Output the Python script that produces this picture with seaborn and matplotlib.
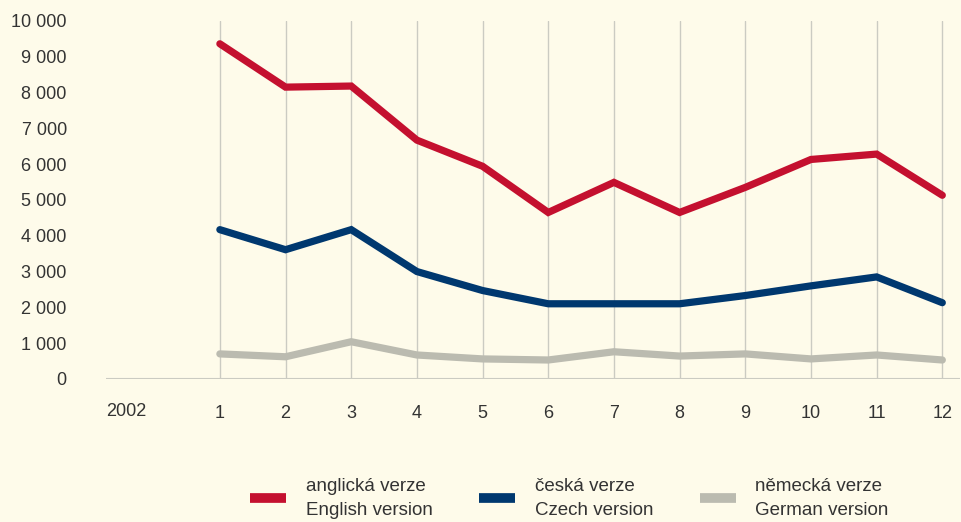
import matplotlib
matplotlib.use("Agg")
from matplotlib import pyplot as plt
import matplotlib.ticker as mtick
import matplotlib.transforms as mtrans
from matplotlib.lines import Line2D
import pandas as pd
import seaborn as sns

# monthly values (2002, months 1-12)
months = [1, 2, 3, 4, 5, 6, 7, 8, 9, 10, 11, 12]
english = [9360, 8150, 8180, 6670, 5940, 4650, 5490, 4650, 5350, 6130, 6280, 5130]
czech = [4170, 3610, 4170, 3000, 2470, 2100, 2100, 2100, 2330, 2600, 2850, 2130]
german = [700, 620, 1040, 670, 560, 530, 760, 640, 700, 560, 670, 530]
series_names = ["anglická verze\nEnglish version", "česká verze\nCzech version",
                "německá verze\nGerman version"]
colors = ["#C4102F", "#00386F", "#BBBBB0"]
year_label = "2002"

df = pd.DataFrame({
    "month": months * 3,
    "value": english + czech + german,
    "series": [series_names[0]] * 12 + [series_names[1]] * 12 + [series_names[2]] * 12,
})

bg = "#FEFBEA"
txt = "#333333"
grid = "#CBCBC2"

sns.set_theme(style="white")
plt.rcParams["font.family"] = ["Liberation Sans", "DejaVu Sans"]

fig = plt.figure(figsize=(9.61, 5.22), dpi=100, facecolor=bg)
ax = fig.add_axes([0.110, 0.274, 0.889, 0.686])
ax.set_facecolor(bg)

for m in months:
    ax.axvline(m, color=grid, lw=1.0, zorder=0)
ax.axhline(0, color=grid, lw=1.5, zorder=0)

sns.lineplot(data=df, x="month", y="value", hue="series", palette=colors,
             linewidth=5.2, ax=ax, legend=False, zorder=3,
             solid_capstyle="round", solid_joinstyle="miter")

ax.set_xlim(-0.738, 12.27)
ax.set_ylim(0, 10000)
ax.set_xticks(months)
ax.set_xticklabels([str(m) for m in months])
ax.set_yticks(range(0, 10001, 1000))
ax.yaxis.set_major_formatter(mtick.FuncFormatter(lambda v, p: f"{int(v):,}".replace(",", " ")))
ax.tick_params(axis="y", length=0, pad=28, labelsize=13, labelcolor=txt)
ax.tick_params(axis="x", length=0, pad=19, labelsize=13, labelcolor=txt)
ax.set_xlabel("")
ax.set_ylabel("")
for s in ax.spines.values():
    s.set_visible(False)

# year label under the left end of the axis, level with the month ticks
ax.text(0.0, 0.0, year_label, ha="left", va="center", fontsize=13, color=txt,
        transform=mtrans.offset_copy(ax.transAxes, fig=fig, x=0, y=-33, units="dots"))

handles = [Line2D([0], [0], color=c, lw=7, solid_capstyle="butt") for c in colors]
leg = fig.legend(handles, series_names, loc="center left", bbox_to_anchor=(0.243, 0.045),
                 ncol=3, frameon=False, prop={"size": 13.5}, handlelength=1.9,
                 handletextpad=1.05, columnspacing=2.5, labelcolor=txt)
for t in leg.get_texts():
    t.set_linespacing(1.6)

fig.savefig("out.png", dpi=100, facecolor=bg)
